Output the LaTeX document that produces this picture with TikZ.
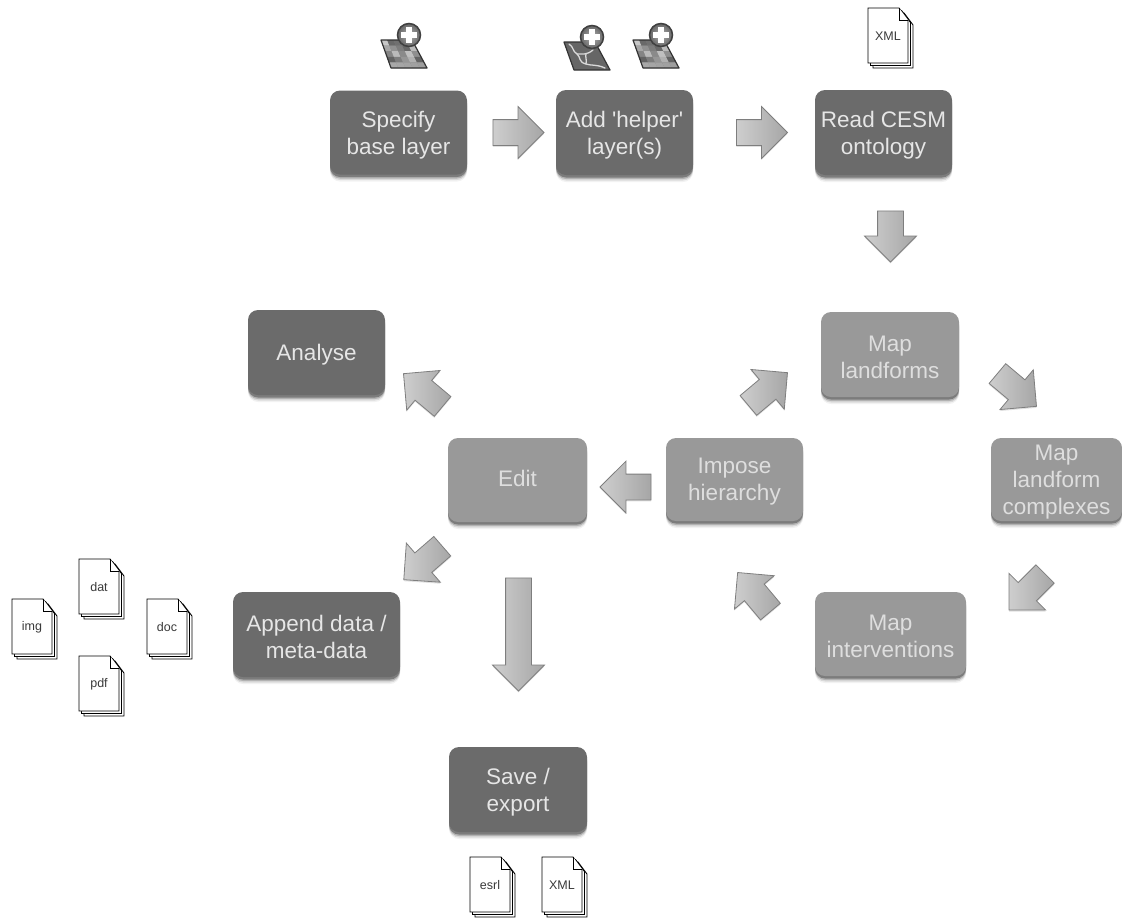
\documentclass[tikz,border=0pt]{standalone}
\usepackage{fontspec}
\setmainfont{Liberation Sans}
\newfontfamily\plainquote{Liberation Sans}
\usetikzlibrary{shapes.arrows,shadows,calc}
\definecolor{darkbox}{HTML}{6B6B6B}
\definecolor{lightbox}{HTML}{999999}
\definecolor{darktext}{HTML}{E6E6E6}
\definecolor{lighttext}{HTML}{DEDEDE}
\definecolor{arrowtail}{HTML}{CECECE}
\definecolor{arrowtip}{HTML}{A6A6A6}
\definecolor{arrowedge}{HTML}{7E7E7E}
\definecolor{doctext}{HTML}{3A3A3A}
\tikzset{
  softshadow/.style={
    general shadow={shadow xshift=0pt,shadow yshift=-7pt,fill=black,opacity=.05},
    general shadow={shadow xshift=0pt,shadow yshift=-5.5pt,fill=black,opacity=.1},
    general shadow={shadow xshift=0pt,shadow yshift=-4pt,fill=black,opacity=.18},
    general shadow={shadow xshift=0pt,shadow yshift=-2.5pt,fill=black,opacity=.3}},
  box/.style={softshadow,rectangle,rounded corners=10pt,inner sep=0pt},
  steptext/.style={inner sep=0pt,align=center,font=\fontsize{22.5}{27}\selectfont,yshift=-2.5pt},
  darkstep/.style={box,fill=darkbox,label={[steptext,text=darktext]center:{#1}}},
  lightstep/.style={box,fill=lightbox,label={[steptext,text=lighttext]center:{#1}}},
  raisedstep/.style={box,fill=lightbox,label={[steptext,text=lighttext,yshift=4.5pt]center:{#1}}},
  blockarrow/.style={single arrow,draw=arrowedge,line width=.8pt,inner sep=0pt,
    left color=arrowtail,right color=arrowtip,text height=25pt,text depth=0pt,
    minimum width=51pt,minimum height=51pt,single arrow head extend=13pt,
    general shadow={shadow xshift=0pt,shadow yshift=-1.5pt,fill=black,opacity=.12}},
  page/.style={draw=black,fill=white,line width=.9pt,line join=miter},
  doclabel/.style={font=\fontsize{12.5}{15}\selectfont,text=doctext,inner sep=0pt},
  mapedge/.style={draw=black!80,line width=1.2pt,line join=round},
  knob/.style={circle,draw=black!75,line width=1.5pt,inner color=black!30,outer color=black!60,
    minimum size=23pt,inner sep=0pt},
}
\newcommand{\docstack}[4]{%
  \begin{scope}[shift={(#2,#3)}]
    \foreach \o in {5,2.5}{
      \path[page] (\o,\o) -- (\o+31,\o) -- (\o+40,\o+12) -- (\o+40,\o+55) -- (\o,\o+55) -- cycle;}
    \path[page] (0,0) -- (31,0) -- (40,12) -- (40,55) -- (0,55) -- cycle;
    \path[page] (31,0) -- (31,12) -- (40,12);
    \node[doclabel] (#1) at (20,28) {#4};
  \end{scope}}
\newcommand{\mapbase}{%
  \coordinate (A) at (0,0); \coordinate (B) at (31,0);
  \coordinate (C) at (46,28); \coordinate (D) at (10,28);}
\newcommand{\mapknob}[1]{%
  \node[knob] (#1) at (28,-5) {};
  \fill[white] ($(#1)+(-8,-2.8)$) rectangle ($(#1)+(8,2.8)$);
  \fill[white] ($(#1)+(-2.8,-8)$) rectangle ($(#1)+(2.8,8)$);}
\newcommand{\gridicon}[3]{%
  \begin{scope}[shift={(#2,#3)}]
    \mapbase
    \fill[black!50] (A) -- (B) -- (C) -- (D) -- cycle;
    \foreach \i in {0,...,4}{\foreach \j in {0,...,4}{
      \pgfmathsetmacro{\shade}{int(22+mod(\i*37+\j*53+\i*\j*11,40))}
      \pgfmathsetmacro{\ua}{\i/5}\pgfmathsetmacro{\ub}{(\i+1)/5}
      \pgfmathsetmacro{\va}{\j/5}\pgfmathsetmacro{\vb}{(\j+1)/5}
      \fill[black!\shade]
        ($($(A)!\va!(D)$)!\ua!($(B)!\va!(C)$)$) --
        ($($(A)!\va!(D)$)!\ub!($(B)!\va!(C)$)$) --
        ($($(A)!\vb!(D)$)!\ub!($(B)!\vb!(C)$)$) --
        ($($(A)!\vb!(D)$)!\ua!($(B)!\vb!(C)$)$) -- cycle;
    }}
    \path[mapedge] (A) -- (B) -- (C) -- (D) -- cycle;
    \mapknob{#1}
  \end{scope}}
\newcommand{\rivericon}[3]{%
  \begin{scope}[shift={(#2,#3)}]
    \mapbase
    \fill[black!60] (A) -- (B) -- (C) -- (D) -- cycle;
    \draw[black!15,line width=1.3pt,line cap=round,line join=round]
      (5,2) .. controls (10,5) and (8,9) .. (13,12) .. controls (17,15) and (14,20) .. (22,22)
      .. controls (28,24) and (32,22) .. (41,26);
    \draw[black!15,line width=1.3pt,line cap=round]
      (13,12) .. controls (19,12) and (23,13) .. (29,8);
    \draw[black!15,line width=1.3pt,line cap=round]
      (22,22) .. controls (23,18) and (21,14) .. (22,12);
    \path[mapedge] (A) -- (B) -- (C) -- (D) -- cycle;
    \mapknob{#1}
  \end{scope}}
\begin{document}
\begin{tikzpicture}[x=1pt,y=-1pt]
\useasboundingbox (0,0) rectangle (1122,919);
% steps
\node[darkstep={Specify\\base layer},minimum width=137pt,minimum height=84pt] (specify) at (398.5,132.5) {};
\node[darkstep={Add {\plainquote 'helper'}\\layer(s)},minimum width=137pt,minimum height=85pt] (helper) at (624.5,132.5) {};
\node[darkstep={Read CESM\\ontology},minimum width=137pt,minimum height=85pt] (cesm) at (883.5,132.5) {};
\node[lightstep={Map\\landforms},minimum width=138pt,minimum height=85pt] (landforms) at (890,354.5) {};
\node[lightstep={Impose\\hierarchy},minimum width=137pt,minimum height=83pt] (hierarchy) at (734.5,479.5) {};
\node[lightstep={Map\\landform\\complexes},minimum width=131pt,minimum height=83pt] (complexes) at (1056.5,479.5) {};
\node[lightstep={Map\\interventions},minimum width=151pt,minimum height=84pt] (interventions) at (890.5,634) {};
\node[raisedstep={Edit},minimum width=139pt,minimum height=84pt] (edit) at (517.5,480) {};
\node[darkstep={Analyse},minimum width=137pt,minimum height=85pt] (analyse) at (316.5,352.5) {};
\node[darkstep={Append data /\\meta-data},minimum width=167pt,minimum height=85pt] (append) at (316.5,634.5) {};
\node[darkstep={Save /\\export},minimum width=138pt,minimum height=85pt] (save) at (518,789.5) {};
% block arrows
\node[blockarrow] (a1) at (512,132.5) {};
\node[blockarrow] (a2) at (755.5,132.5) {};
\node[blockarrow,rotate=-90] (a3) at (890.5,230) {};
\node[blockarrow,rotate=40] (a4) at (763,393.2) {};
\node[blockarrow,rotate=-40] (a5) at (1012,385.8) {};
\node[blockarrow,rotate=225] (a6) at (1031.6,587.4) {};
\node[blockarrow,rotate=130] (a7) at (758.2,597) {};
\node[blockarrow,rotate=180] (a8) at (632,487) {};
\node[blockarrow,rotate=140] (a9) at (428,394.2) {};
\node[blockarrow,rotate=221] (a10) at (427.9,558.7) {};
\node[blockarrow,rotate=-90,minimum height=113pt] (a11) at (518.5,628) {};
% documents
\docstack{docxmltop}{868}{8}{XML}
\docstack{docdat}{79}{559}{dat}
\docstack{docimg}{12}{599}{img}
\docstack{docdoc}{147}{599}{doc}
\docstack{docpdf}{79}{656}{pdf}
\docstack{docesrl}{470}{857}{esrl}
\docstack{docxml}{542}{857}{XML}
% map icons
\gridicon{iconbase}{381}{40}
\rivericon{iconriver}{564}{42}
\gridicon{icongrid}{633}{40}
\end{tikzpicture}
\end{document}
